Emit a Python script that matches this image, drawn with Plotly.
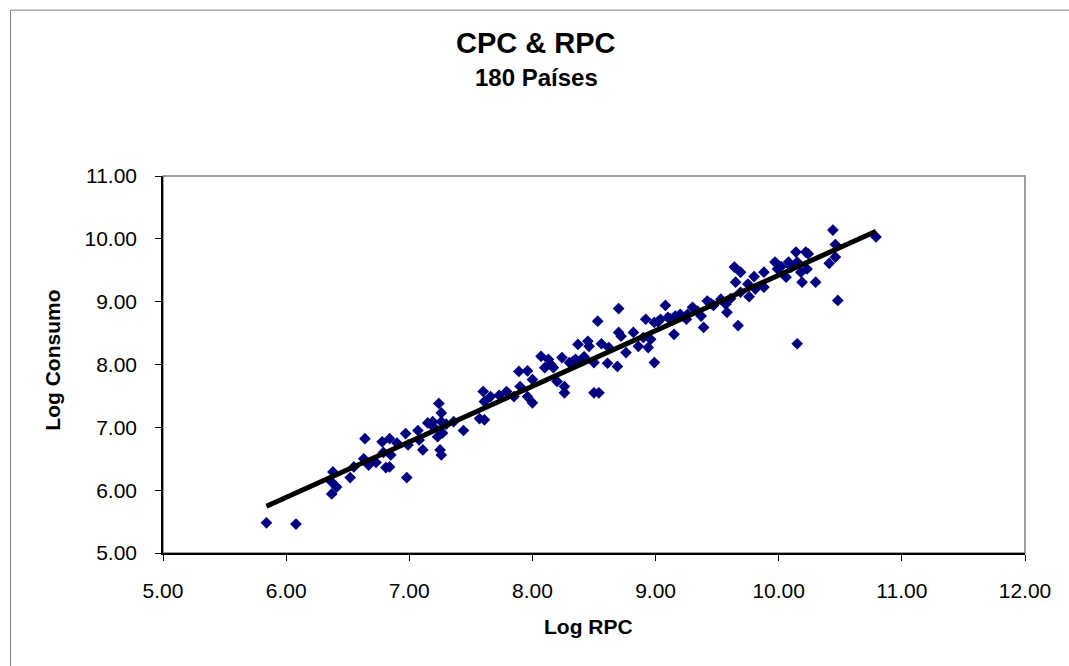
import numpy as np
import plotly.graph_objects as go

# Log RPC (x) and Log Consumo (y)
log_rpc = [
    5.84, 6.08, 6.38, 6.37, 6.41, 6.37, 6.52, 6.55, 6.63, 6.64, 6.67, 6.73, 6.78, 6.84, 6.79, 6.81, 6.84, 6.85,
    6.97, 6.98, 6.99,
    7.07, 7.08, 7.11, 7.15, 7.19, 7.23, 7.24, 7.26, 7.26, 7.27, 7.25, 7.26, 7.36, 7.44, 7.57, 7.60, 7.61, 7.61,
    7.66, 7.73, 7.79, 7.85, 7.89, 7.96, 7.90, 7.96, 8.00, 8.00,
    8.07, 8.13, 8.15, 8.17, 8.20, 8.24, 8.26, 8.26, 8.30, 8.33, 8.35, 8.37, 8.41, 8.45, 8.46, 8.50, 8.50, 8.54,
    8.53, 8.56, 8.61, 8.62, 8.69, 8.70, 8.70, 8.72, 8.76, 8.82, 8.86, 8.90, 8.92, 8.94, 8.96, 8.99, 8.99, 9.04,
    9.08, 9.10, 9.15, 9.16, 9.20, 9.25, 9.30, 9.34,
    9.37, 9.39, 9.42, 9.47, 9.53, 9.57, 9.58, 9.64, 9.65, 9.69, 9.67, 9.69, 9.75, 9.76, 9.80, 9.81, 9.88, 9.88,
    9.97, 9.99, 10.02, 10.06, 10.08, 10.14, 10.15, 10.18, 10.15,
    10.19, 10.22, 10.24, 10.23, 10.30, 10.44, 10.46, 10.46, 10.41, 10.79, 10.48,
    8.38, 8.42, 9.02, 9.12, 9.26, 9.45, 9.61, 10.10, 7.20, 7.30, 6.90, 8.10,
]
log_consumo = [
    5.48, 5.46, 6.29, 6.13, 6.05, 5.94, 6.20, 6.37, 6.50, 6.82, 6.40, 6.44, 6.77, 6.82, 6.60, 6.36, 6.37, 6.56,
    6.90, 6.20, 6.72,
    6.95, 6.80, 6.64, 7.07, 7.09, 6.85, 7.38, 7.23, 7.09, 6.91, 6.64, 6.56, 7.09, 6.95, 7.14, 7.57, 7.41, 7.12,
    7.49, 7.51, 7.57, 7.49, 7.89, 7.90, 7.65, 7.49, 7.39, 7.76,
    8.13, 8.08, 8.00, 7.95, 7.73, 8.11, 7.65, 7.55, 8.03, 8.05, 8.08, 8.32, 8.10, 8.37, 8.29, 8.03, 7.55, 7.55,
    8.69, 8.33, 8.02, 8.27, 7.97, 8.89, 8.51, 8.45, 8.19, 8.51, 8.29, 8.43, 8.72, 8.27, 8.40, 8.67, 8.03, 8.72,
    8.94, 8.75, 8.48, 8.77, 8.80, 8.72, 8.91, 8.85,
    8.77, 8.59, 9.01, 8.94, 9.04, 8.96, 8.83, 9.55, 9.31, 9.47, 8.62, 9.15, 9.28, 9.08, 9.40, 9.20, 9.47, 9.23,
    9.63, 9.52, 9.56, 9.39, 9.63, 9.79, 9.63, 9.47, 8.33,
    9.31, 9.79, 9.76, 9.52, 9.31, 10.14, 9.91, 9.71, 9.61, 10.03, 9.02,
    8.05, 8.12, 8.68, 8.73, 8.80, 8.97, 9.05, 9.55, 7.00, 7.05, 6.75, 7.95,
]

x_ticks = [5, 6, 7, 8, 9, 10, 11, 12]
y_ticks = [5, 6, 7, 8, 9, 10, 11]

title_text = "CPC & RPC"
subtitle_text = "180 Países"
x_title = "Log RPC"
y_title = "Log Consumo"

x = np.array(log_rpc)
y = np.array(log_consumo)
slope, intercept = np.polyfit(x, y, 1)
x_line = np.array([x.min(), x.max()])
y_line = slope * x_line + intercept

FONT = "Liberation Sans, Arial, sans-serif"

fig = go.Figure()
fig.add_trace(go.Scatter(
    x=log_rpc, y=log_consumo, mode="markers",
    marker=dict(symbol="diamond", size=9, color="#000080", line=dict(width=0)),
    showlegend=False, hoverinfo="x+y",
))
fig.add_trace(go.Scatter(
    x=x_line, y=y_line, mode="lines",
    line=dict(color="black", width=5),
    showlegend=False, hoverinfo="skip",
))

axis_common = dict(
    showgrid=False, zeroline=False,
    ticks="outside", ticklen=6, tickcolor="black", tickwidth=1,
    showline=True, linecolor="black", linewidth=1.5, mirror=False,
    tickfont=dict(size=21, color="black"), tickformat=".2f",
)

fig.update_layout(
    width=1069, height=666,
    margin=dict(l=162.5, r=44, t=176, b=113),
    paper_bgcolor="white", plot_bgcolor="white",
    font=dict(family=FONT, size=21, color="black"),
    xaxis=dict(range=[5, 12], tickvals=x_ticks, ticklabelstandoff=12, **axis_common),
    yaxis=dict(range=[5, 11], tickvals=y_ticks, ticklabelstandoff=14, **axis_common),
    annotations=[
        dict(text=f"<b>{title_text}</b>", xref="paper", yref="paper", x=0.433, y=1.353,
             xanchor="center", yanchor="middle", showarrow=False, font=dict(size=29)),
        dict(text=f"<b>{subtitle_text}</b>", xref="paper", yref="paper", x=0.433, y=1.262,
             xanchor="center", yanchor="middle", showarrow=False, font=dict(size=24)),
        dict(text=f"<b>{x_title}</b>", xref="paper", yref="paper", x=0.4936, y=-0.196,
             xanchor="center", yanchor="middle", showarrow=False, font=dict(size=21)),
        dict(text=f"<b>{y_title}</b>", xref="paper", yref="paper", x=-0.128, y=0.512,
             xanchor="center", yanchor="middle", showarrow=False, textangle=-90,
             font=dict(size=21)),
    ],
    shapes=[
        dict(type="rect", xref="paper", yref="paper", x0=0, y0=0, x1=1, y1=1,
             line=dict(color="#808080", width=1.5), layer="below"),
        dict(type="rect", xref="paper", yref="paper", x0=-0.1769, y0=-0.6, x1=1.3, y1=1.440,
             line=dict(color="#808080", width=1), layer="below"),
    ],
)

fig.write_html(
    "out.html",
    config={"displayModeBar": False},
    post_script="document.body.style.margin='0';document.body.style.overflow='hidden';",
)
